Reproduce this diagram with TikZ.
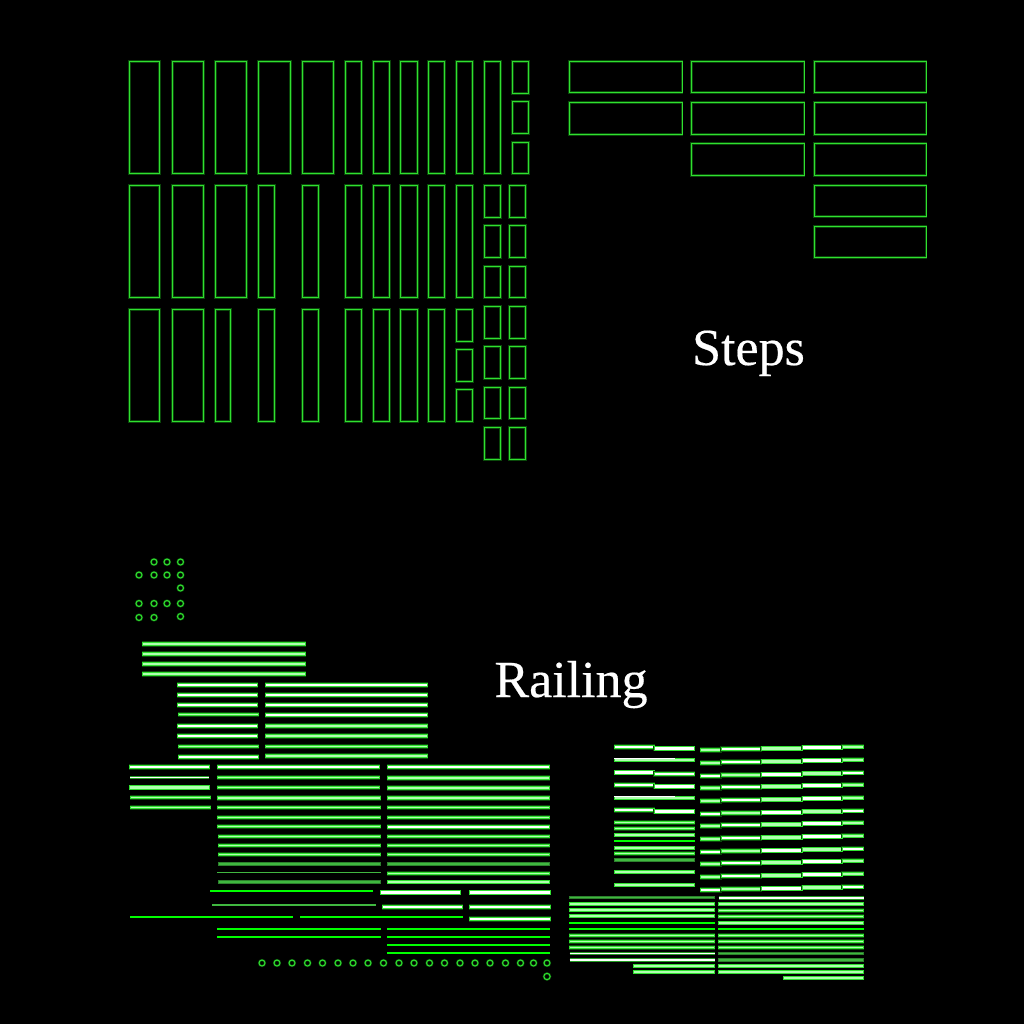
\documentclass[tikz,border=0pt]{standalone}
\usepackage{fontspec}
\setmainfont{Liberation Serif}
\newfontfamily\ttlfont[FakeBold=0.35]{Liberation Serif}
\definecolor{edge}{HTML}{30E030}
\definecolor{lite}{HTML}{B0FFB0}
\definecolor{dgreen}{HTML}{40B840}
\definecolor{pure}{HTML}{00FF00}
\definecolor{glow}{HTML}{0A480A}
\tikzset{
  box/.style={draw=edge,line width=1pt,fill=none,preaction={draw=glow,line width=2.3pt}},
  ring/.style={draw=edge,line width=1pt,fill=none,preaction={draw=glow,line width=2.2pt}},
  bw/.style={draw=edge,line width=1pt,fill=white,preaction={draw=glow,line width=1.8pt}},
  bl/.style={draw=edge,line width=1pt,fill=lite,preaction={draw=glow,line width=1.8pt}},
  bd/.style={draw=dgreen!70!black,line width=1pt,fill=dgreen},
  title/.style={text=white,font=\ttlfont\fontsize{52}{52}\selectfont,inner sep=0pt,anchor=base}
}
% bar: style, x1, x2, y
\newcommand{\rb}[4]{\path[#1] (#2,#4-1.7) rectangle (#3,#4+1.7);}
\newcommand{\rt}[4]{\path[#1] (#2,#4-1.2) rectangle (#3,#4+1.2);}
\newcommand{\gl}[3]{\draw[pure,line width=2.4pt] (#1,#3) -- (#2,#3);}
\newcommand{\wl}[3]{\fill[edge!70!black] (#1,#3-1.7) rectangle (#2,#3+1.7);\draw[white,line width=1.6pt] (#1,#3) -- (#2,#3);}
\newcommand{\dl}[3]{\draw[dgreen,line width=1.5pt] (#1,#3) -- (#2,#3);}
\begin{document}
\begin{tikzpicture}[x=1pt,y=-1pt]
\fill[black] (0,0) rectangle (1024,1024);
\useasboundingbox (0,0) rectangle (1024,1024);
% Steps: rows of tall boxes
\foreach \a/\b in {129/160,172/204,215/247,258/291,302/334,345/362,373/390,400/418,428/445,456/473,484/501}
  {\draw[box] (\a+.5,61.5) rectangle (\b-.5,173.5);}
\foreach \a/\b in {129/160,172/204,215/247,258/275,302/319,345/362,373/390,400/418,428/445,456/473}
  {\draw[box] (\a+.5,185.5) rectangle (\b-.5,297.5);}
\foreach \a/\b in {129/160,172/204,215/231,258/275,302/319,345/362,373/390,400/418,428/445}
  {\draw[box] (\a+.5,309.5) rectangle (\b-.5,421.5);}
\foreach \a/\b in {61/93,101/133,142/173}
  {\draw[box] (512.5,\a+.5) rectangle (528.5,\b+.5);}
\foreach \a/\b in {309/341,349/381,389/421}
  {\draw[box] (456.5,\a+.5) rectangle (472.5,\b+.5);}
\foreach \a/\b in {185/217,225/257,266/297,306/338,346/378,387/418,427/459}
  {\draw[box] (484.5,\a+.5) rectangle (500.5,\b+.5);
   \draw[box] (509.5,\a+.5) rectangle (525.5,\b+.5);}
% Steps: wide boxes
\foreach \a/\b in {61/92,102/134}
  {\draw[box] (569.5,\a+.5) rectangle (682,\b+.5);}
\foreach \a/\b in {61/92,102/134,143/175}
  {\draw[box] (691.5,\a+.5) rectangle (804,\b+.5);}
\foreach \a/\b in {61/92,102/134,143/175,185/216,226/257}
  {\draw[box] (814.5,\a+.5) rectangle (926,\b+.5);}
\node[title] (steps) at (748.5,365) {Steps};
\node[title] (railing) at (571,697) {Railing};
% small rings, top left
\foreach \x/\y in {154/562,167/562,180.5/562,139/575,154/575,167/575,180.5/575,180.5/588,139/603.5,154/603.5,167/603.5,180.5/603.5,139/617.5,154/617.5,180.5/616.5}
  {\draw[ring] (\x,\y) circle (3);}
% small rings, bottom
\foreach \x in {262,277,292,307.5,322.5,338,353,368,383.5,399,414,429.5,444.5,460,475,490,505.5,520.5,533.5,547}
  {\draw[ring] (\x,963) circle (3);}
\draw[ring] (547,976.5) circle (3.2);
% group 1
\foreach \y in {644,654,664,674} {\rb{bl}{142.5}{305.5}{\y}}
% group 2 left
\foreach \y in {685,695,705,726,736} {\rb{bw}{177.5}{257.5}{\y}}
\rt{bl}{178.5}{258.5}{714.5}
\rt{bl}{178.5}{258.5}{746.5}
\rb{bw}{178.5}{258.5}{757}
% group 2 right
\foreach \y in {685,695,705,715} {\rb{bw}{265.5}{427.5}{\y}}
\foreach \y in {726,736,756} {\rb{bl}{265.5}{427.5}{\y}}
\rt{bl}{265.5}{427.5}{746.5}
% group 3 left
\rb{bw}{129.5}{209.5}{767}
\wl{130}{209}{777.5}
\rb{bl}{129.5}{209.5}{787.5}
\rt{bl}{130.5}{210.5}{797.5}
\rt{bl}{130.5}{210.5}{807.5}
% group 3 middle
\rb{bw}{217.5}{379.5}{767}
\rt{bl}{217.5}{379.5}{777.5}
\rt{bl}{217.5}{379.5}{787.5}
\rb{bl}{217.5}{380.5}{798}
\rt{bl}{217.5}{380.5}{807.5}
\rt{bl}{217.5}{380.5}{817.5}
\rt{bl}{217.5}{380.5}{826.5}
\rt{bl}{218.5}{380.5}{836.5}
\rt{bl}{218.5}{380.5}{845.5}
\rt{bl}{218.5}{380.5}{854.5}
\rt{bd}{218.5}{380.5}{864}
\dl{217}{381}{872.5}
\rt{bd}{218.5}{380.5}{882}
% group 3 right
\rb{bw}{387.5}{549.5}{767}
\rb{bl}{387.5}{549.5}{778}
\rb{bl}{387.5}{549.5}{788}
\rb{bl}{387.5}{549.5}{798}
\rt{bl}{387.5}{549.5}{807.5}
\rt{bl}{387.5}{549.5}{817.5}
\rb{bw}{387.5}{549.5}{827}
\rt{bl}{387.5}{549.5}{836.5}
\rt{bl}{387.5}{549.5}{845.5}
\rt{bl}{387.5}{549.5}{854.5}
\rt{bd}{387.5}{549.5}{864}
\rt{bl}{387.5}{549.5}{873.5}
\rt{bl}{387.5}{549.5}{882}
% lower centre
\gl{210}{373}{891}
\dl{212}{376}{905}
\gl{130}{293}{917}
\gl{300}{463}{917}
\rb{bw}{380.5}{460.5}{892.5}
\rb{bw}{469.5}{550.5}{892.5}
\rb{bw}{382.5}{462.5}{907}
\rb{bw}{469.5}{550.5}{907}
\rb{bw}{469.5}{550.5}{919}
\gl{217}{381}{929}
\gl{217}{381}{937}
\foreach \y in {929,937,945,953} {\gl{387}{550}{\y}}
% right block, short column
\foreach \y in {747,772.5,785,810}
  {\rb{bw}{614.5}{654}{\y}\rb{bw}{654}{694.5}{\y+1.5}}
\foreach \y in {760,798}
  {\rt{bl}{614.5}{694.5}{\y}\draw[white,line width=1pt] (614,\y-1.5) -- (675,\y-1.5);}
\foreach \y in {822.5,828.5,848,853.5,872,885} {\rt{bl}{614.5}{694.5}{\y}}
\rt{bl}{614.5}{694.5}{835}
\gl{614}{695}{841}
\rt{bd}{614.5}{694.5}{860}
% right block, stepped bars
\foreach \y [count=\i] in {750,763,776,788,801,814,826,839,852,864,877,890} {
  \pgfmathsetmacro{\ca}{mod(\i,3)==0 ? "bl" : "bw"}
  \pgfmathsetmacro{\cb}{mod(\i,3)==0 ? "bw" : "bl"}
  \rb{\cb}{700.5}{721}{\y}
  \rb{\ca}{721}{761}{\y-1}
  \rb{\cb}{761}{802}{\y-1.6}
  \rb{\ca}{802}{842}{\y-2.4}
  \rb{\cb}{842}{863.5}{\y-3.2}
}
% lower right block
\rt{bd}{569.5}{714.5}{897.7}
\foreach \y in {904,910,916,935.5,941.5,947.5} {\rt{bl}{569.5}{714.5}{\y}}
\gl{569}{715}{923}
\gl{569}{715}{929}
\wl{569.5}{714.5}{953.5}
\wl{569.5}{714.5}{960}
\rt{bl}{633.5}{714.5}{966}
\rt{bl}{633.5}{714.5}{972}
\wl{718.5}{863.5}{898}
\foreach \y in {904,910.5,916.5,935.5,941.5,947.5,966,972} {\rt{bl}{718.5}{863.5}{\y}}
\rt{bl}{718.5}{863.5}{923}
\gl{718}{864}{929}
\rt{bd}{718.5}{863.5}{953.5}
\rt{bd}{718.5}{863.5}{960}
\rt{bl}{783.5}{863.5}{978}
\end{tikzpicture}
\end{document}
